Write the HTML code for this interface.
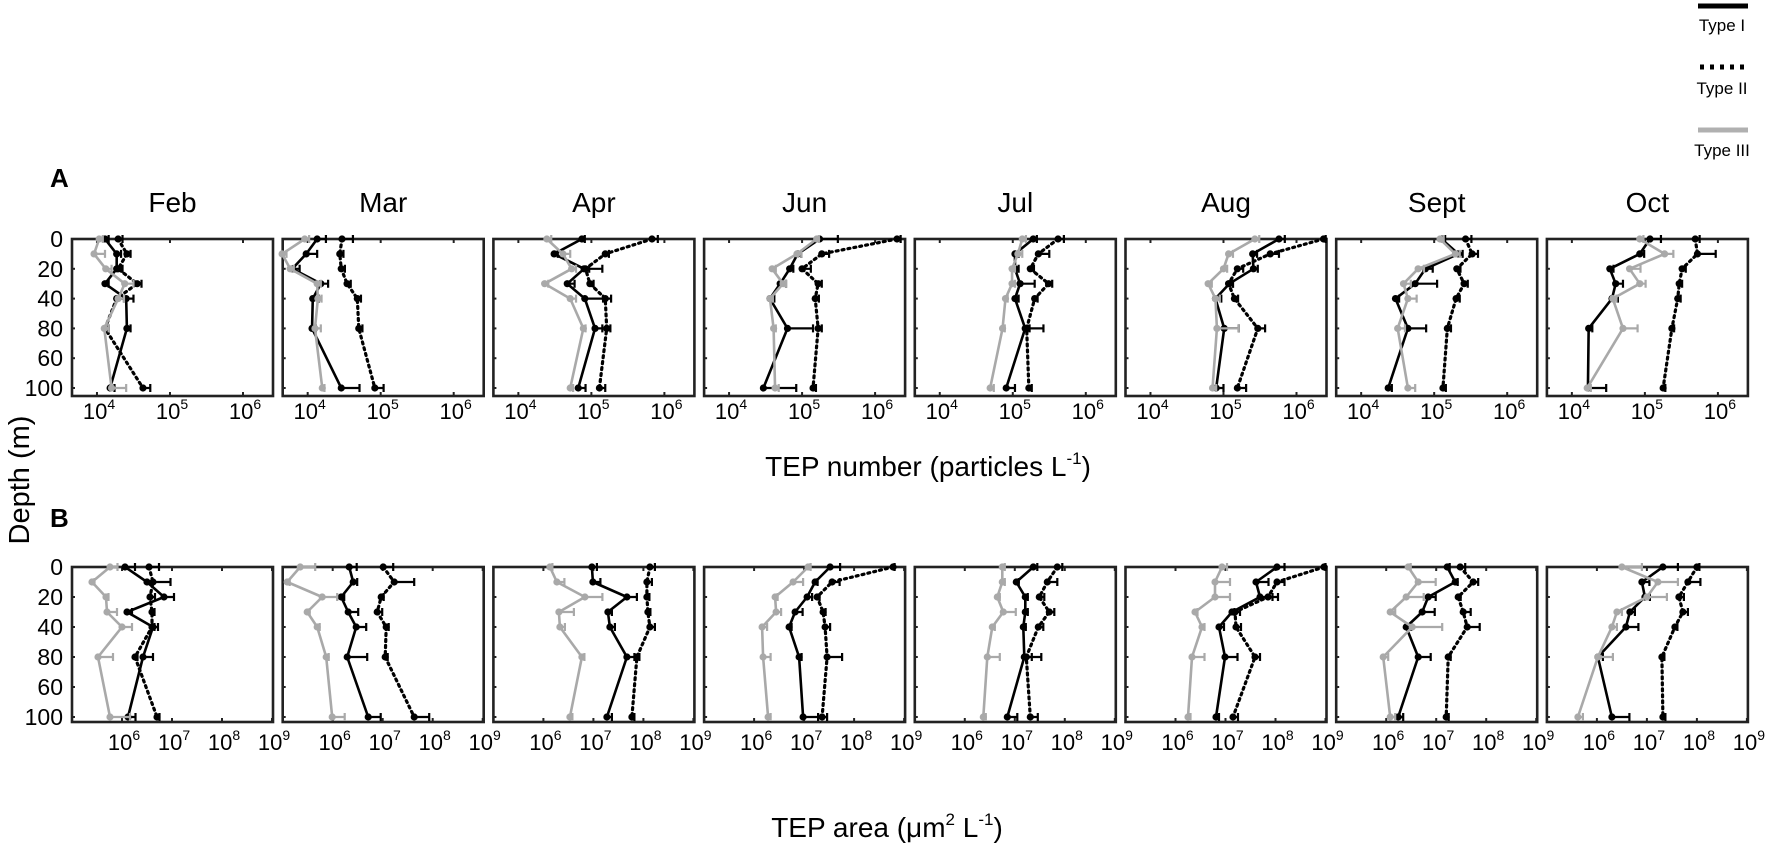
<!DOCTYPE html>
<html><head><meta charset="utf-8"><style>
html,body{margin:0;padding:0;background:#fff;}
svg{display:block;font-family:"Liberation Sans",Arial,sans-serif;}
</style></head><body>
<svg id="chart" width="1772" height="846" viewBox="0 0 1772 846" xmlns="http://www.w3.org/2000/svg">
<g>
  <line x1="1698" y1="6" x2="1748" y2="6" stroke="#000" stroke-width="5"/>
  <text x="1722" y="31" font-size="17" text-anchor="middle">Type I</text>
  <line x1="1700" y1="67" x2="1748" y2="67" stroke="#000" stroke-width="5" stroke-dasharray="4 6" stroke-linecap="butt"/>
  <text x="1722" y="94" font-size="17" text-anchor="middle">Type II</text>
  <line x1="1698" y1="130" x2="1748" y2="130" stroke="#b0b0b0" stroke-width="5"/>
  <text x="1722" y="156" font-size="17" text-anchor="middle">Type III</text>
</g>
<text x="50" y="187" font-size="26" font-weight="bold">A</text>
<text x="50" y="527" font-size="26" font-weight="bold">B</text>
<text x="0" y="0" font-size="29" text-anchor="middle" transform="translate(29,480) rotate(-90)">Depth (m)</text>
<text x="928" y="476" font-size="28" text-anchor="middle">TEP number  (particles  L<tspan font-size="17" dy="-12">-1</tspan><tspan dy="12">)</tspan></text>
<text x="887" y="837" font-size="28" text-anchor="middle">TEP area (μm<tspan font-size="17" dy="-12">2</tspan><tspan dy="12"> L</tspan><tspan font-size="17" dy="-12">-1</tspan><tspan dy="12">)</tspan></text>
<g id="plots"></g>
</svg>
<script>
const months = ["Feb","Mar","Apr","Jun","Jul","Aug","Sept","Oct"];
const depths = [0,10,20,30,40,60,100];
const depthTickPos = [0,20,40,60,80,100];
const depthTickLabels = ["0","20","40","80","60","100"];
const numTicks = [4,5,6];
const areaTicks = [6,7,8,9];

// log10 TEP number (particles L-1)
const numI = [
 [4.11,4.27,4.27,4.11,4.40,4.41,4.18],
 [4.13,3.98,3.79,4.18,4.07,4.06,4.46],
 [4.87,4.49,4.90,4.67,4.91,5.05,4.82],
 [5.24,4.94,4.83,4.70,4.56,4.80,4.47],
 [5.28,5.03,5.03,5.10,5.03,5.17,4.91],
 [5.76,5.40,5.41,5.08,4.89,5.01,4.90],
 [5.10,5.33,4.88,4.74,4.47,4.64,4.37],
 [5.07,4.93,4.52,4.60,4.55,4.23,4.22]];
const numII = [
 [4.29,4.41,4.29,4.55,4.27,4.11,4.63],
 [4.47,4.44,4.46,4.54,4.68,4.70,4.92],
 [5.83,5.19,4.92,4.98,5.19,5.21,5.11],
 [6.30,5.27,5.00,5.22,5.18,5.22,5.15],
 [5.62,5.35,5.24,5.49,5.30,5.19,5.22],
 [6.37,5.64,5.19,5.07,5.15,5.47,5.19],
 [5.43,5.52,5.31,5.41,5.30,5.18,5.12],
 [5.69,5.72,5.51,5.47,5.45,5.37,5.25]];
const numIII = [
 [4.03,3.96,4.12,4.38,4.29,4.10,4.20],
 [3.96,3.65,3.76,4.13,4.14,4.10,4.20],
 [4.39,4.61,4.73,4.36,4.71,4.89,4.71],
 [5.20,4.93,4.59,4.74,4.56,4.61,4.63],
 [5.13,5.07,4.99,4.99,4.90,4.86,4.69],
 [5.43,5.07,5.00,4.79,4.89,4.91,4.85],
 [5.08,5.29,4.78,4.58,4.64,4.50,4.64],
 [4.93,5.27,4.79,4.93,4.56,4.70,4.21]];
const numErrI = [
 [0.05,0.06,0.08,0.05,0.10,0.05,0.06],[0.12,0.15,0.10,0.10,0.08,0.05,0.25],
 [0.04,0.05,0.25,0.10,0.25,0.10,0.10],[0.25,0.05,0.05,0.08,0.06,0.35,0.45],
 [0.05,0.05,0.05,0.20,0.05,0.25,0.12],[0.08,0.06,0.06,0.05,0.08,0.20,0.10],
 [0.05,0.06,0.10,0.30,0.05,0.25,0.05],[0.15,0.06,0.05,0.10,0.08,0.05,0.25]];
const numErrII = [
 [0.06,0.05,0.05,0.06,0.10,0.05,0.10],[0.15,0.05,0.05,0.05,0.05,0.05,0.12],
 [0.08,0.05,0.05,0.05,0.08,0.05,0.08],[0.05,0.10,0.12,0.05,0.05,0.05,0.04],
 [0.08,0.15,0.05,0.05,0.04,0.04,0.04],[0.03,0.12,0.08,0.06,0.05,0.10,0.12],
 [0.08,0.08,0.05,0.05,0.05,0.05,0.04],[0.06,0.25,0.05,0.04,0.04,0.03,0.03]];
const numErrIII = [
 [0.05,0.15,0.08,0.12,0.08,0.06,0.20],[0.06,0.06,0.05,0.05,0.05,0.08,0.03],
 [0.06,0.10,0.06,0.05,0.08,0.03,0.04],[0.03,0.06,0.05,0.04,0.04,0.03,0.05],
 [0.05,0.06,0.04,0.04,0.03,0.03,0.05],[0.06,0.06,0.05,0.05,0.06,0.30,0.05],
 [0.05,0.06,0.08,0.10,0.12,0.10,0.10],[0.05,0.12,0.15,0.08,0.05,0.20,0.05]];

// log10 TEP area (um2 L-1)
const areaI = [
 [6.06,6.50,6.84,6.10,6.62,6.42,6.12],
 [6.33,6.41,6.17,6.31,6.47,6.29,6.71],
 [6.97,6.99,7.67,7.29,7.33,7.67,7.27],
 [7.52,7.22,7.06,6.82,6.70,6.90,6.98],
 [7.37,7.03,7.21,7.21,7.17,7.19,6.85],
 [8.03,7.61,7.69,7.13,6.87,6.99,6.81],
 [7.22,7.38,6.84,6.72,6.40,6.64,6.24],
 [7.32,6.90,6.96,6.66,6.58,6.02,6.30]];
const areaII = [
 [6.54,6.62,6.56,6.60,6.60,6.26,6.70],
 [7.01,7.23,6.97,6.89,7.07,7.05,7.63],
 [8.13,8.07,8.07,8.09,8.13,7.87,7.77],
 [8.78,7.56,7.26,7.38,7.42,7.46,7.36],
 [7.85,7.65,7.49,7.69,7.47,7.23,7.31],
 [8.97,8.03,7.85,7.19,7.21,7.59,7.15],
 [7.48,7.74,7.44,7.54,7.62,7.24,7.20],
 [8.00,7.82,7.64,7.72,7.56,7.30,7.32]];
const areaIII = [
 [5.76,5.40,5.68,5.70,6.00,5.52,5.76],
 [5.35,5.09,5.79,5.49,5.69,5.87,5.99],
 [6.13,6.27,6.83,6.31,6.33,6.77,6.53],
 [7.08,6.78,6.42,6.44,6.16,6.18,6.28],
 [6.75,6.75,6.65,6.77,6.55,6.45,6.37],
 [6.93,6.79,6.79,6.39,6.53,6.33,6.25],
 [6.44,6.64,6.40,6.08,6.52,5.94,6.08],
 [6.50,7.22,7.00,6.40,6.30,6.02,5.62]];
const areaErrI = [
 [0.20,0.10,0.20,0.10,0.10,0.20,0.15],[0.15,0.08,0.06,0.20,0.20,0.40,0.25],
 [0.10,0.15,0.20,0.08,0.10,0.15,0.10],[0.20,0.05,0.10,0.15,0.05,0.05,0.30],
 [0.08,0.05,0.05,0.05,0.05,0.15,0.20],[0.15,0.25,0.25,0.05,0.10,0.25,0.06],
 [0.05,0.05,0.15,0.25,0.10,0.25,0.10],[0.30,0.15,0.10,0.10,0.25,0.10,0.35]];
const areaErrII = [
 [0.20,0.35,0.10,0.05,0.05,0.05,0.05],[0.20,0.40,0.05,0.10,0.05,0.05,0.30],
 [0.10,0.10,0.05,0.05,0.10,0.05,0.05],[0.03,0.15,0.05,0.05,0.10,0.30,0.10],
 [0.10,0.20,0.10,0.10,0.10,0.30,0.15],[0.03,0.15,0.20,0.10,0.10,0.10,0.10],
 [0.10,0.10,0.05,0.15,0.25,0.05,0.05],[0.05,0.25,0.10,0.10,0.05,0.05,0.05]];
const areaErrIII = [
 [0.15,0.05,0.05,0.20,0.20,0.30,0.40],[0.30,0.05,0.30,0.05,0.05,0.05,0.25],
 [0.05,0.15,0.35,0.30,0.10,0.05,0.05],[0.05,0.20,0.05,0.10,0.10,0.15,0.05],
 [0.05,0.05,0.05,0.25,0.05,0.25,0.05],[0.10,0.30,0.30,0.05,0.05,0.25,0.05],
 [0.05,0.35,0.35,0.10,0.60,0.10,0.10],[0.40,0.40,0.40,0.10,0.10,0.30,0.10]];

const NS = "http://www.w3.org/2000/svg";
const plots = document.getElementById("plots");
const BOX_W = 201, STEP = 210.7, X0 = 72;
const panels = [
  {key:"number", top:239, bottom:396, y0:239, yk:1.49, lmin:3.658, lmax:6.411, ticks:numTicks, tickY:419,
   series:[[numI,numErrI],[numII,numErrII],[numIII,numErrIII]]},
  {key:"area", top:567, bottom:722, y0:567, yk:1.50, lmin:5.0, lmax:9.02, ticks:areaTicks, tickY:750,
   series:[[areaI,areaErrI],[areaII,areaErrII],[areaIII,areaErrIII]]}
];
const styles = [
  {name:"type-i", color:"#000", dash:null, w:2.6},
  {name:"type-ii", color:"#000", dash:"2 4", w:3.2},
  {name:"type-iii", color:"#a9a9a9", dash:null, w:2.6}
];
function mk(tag, attrs, parent){ const e=document.createElementNS(NS,tag); for(const k in attrs) e.setAttribute(k,attrs[k]); parent.appendChild(e); return e; }

panels.forEach(p=>{
  months.forEach((m,mi)=>{
    const bx = X0 + mi*STEP;
    const xs = v => bx + (v - p.lmin)/(p.lmax - p.lmin)*BOX_W;
    const ys = d => p.y0 + d*p.yk;
    const g = mk("g",{},plots);
    
    
    if(p.key==="number"){
      const t = mk("text",{x:bx+BOX_W/2,y:212,"font-size":"28","text-anchor":"middle"},g);
      
      
      t.textContent = m;
    }
    const box = mk("rect",{x:bx,y:p.top,width:BOX_W,height:p.bottom-p.top,fill:"none",stroke:"#222","stroke-width":"2.6"},g);
    
    
    // x ticks and labels
    p.ticks.forEach(tv=>{
      const x = xs(tv);
      const tb = mk("line",{x1:x,y1:p.bottom,x2:x,y2:p.bottom-4,stroke:"#222","stroke-width":"2"},g);
      
      
      const tt = mk("line",{x1:x,y1:p.top,x2:x,y2:p.top+4,stroke:"#222","stroke-width":"2"},g);
      
      
      const lab = mk("text",{x:x+2,y:p.tickY,"font-size":"22","text-anchor":"middle"},g);
      
      
      const a = document.createElementNS(NS,"tspan"); a.textContent="10"; lab.appendChild(a);
      const b = document.createElementNS(NS,"tspan"); b.setAttribute("font-size","14"); b.setAttribute("dy","-10"); b.textContent=String(tv); lab.appendChild(b);
    });
    // y ticks
    depthTickPos.forEach((d,di)=>{
      const y = ys(d);
      const tl = mk("line",{x1:bx,y1:y,x2:bx+3,y2:y,stroke:"#222","stroke-width":"2"},g);
      
      
      if(mi===0){
        const lt = mk("text",{x:63,y:y+8,"font-size":"23","text-anchor":"end"},g);
        
        
        lt.textContent = depthTickLabels[di];
      }
    });
    // series
    p.series.forEach((s,si)=>{
      const st = styles[si];
      const vals = s[0][mi], errs = s[1][mi];
      const sg = mk("g",{},g);
      
      
      vals.forEach((v,k)=>{
        const x=xs(v), y=ys(depths[k]), x2=xs(v+errs[k]);
        const eb = mk("path",{d:`M${x},${y}H${x2}M${x2},${y-4}V${y+4}`,stroke:st.color,"stroke-width":"2.2",fill:"none"},sg);
        
        
      });
      const pts = vals.map((v,k)=>xs(v)+","+ys(depths[k])).join(" ");
      const attrs = {points:pts,fill:"none",stroke:st.color,"stroke-width":st.w,"stroke-linejoin":"round"};
      if(st.dash){attrs["stroke-dasharray"]=st.dash; attrs["stroke-linecap"]="round";}
      const pl = mk("polyline",attrs,sg);
      
      
      vals.forEach((v,k)=>{
        const c = mk("circle",{cx:xs(v),cy:ys(depths[k]),r:"3.6",fill:st.color},sg);
        
        
      });
    });
  });
});
</script>
</body></html>
